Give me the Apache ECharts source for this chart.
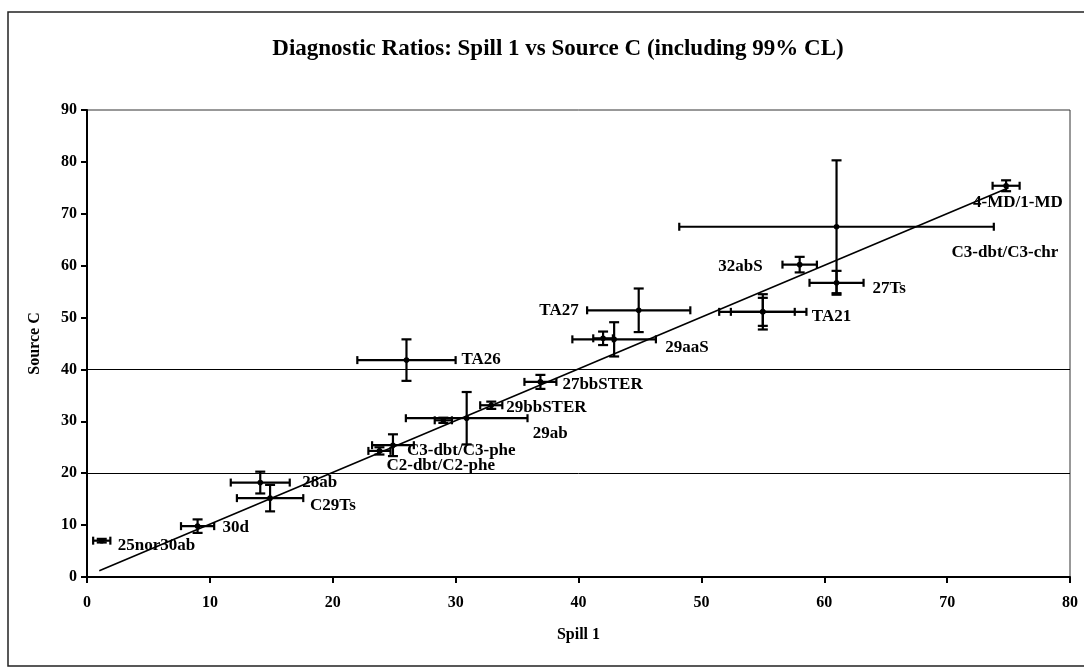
<!DOCTYPE html>
<html>
<head>
<meta charset="utf-8">
<script src="https://cdn.jsdelivr.net/npm/echarts@6/dist/echarts.min.js"></script>
<style>
html,body{margin:0;padding:0;background:#fff;}
#chart{width:1084px;height:670px;}
</style>
</head>
<body>
<div id="chart"></div>
<script>
// ---- data ----
const pointNames = ['25nor30ab','30d','28ab','C29Ts','C2-dbt/C2-phe','C3-dbt/C3-phe','','29ab','29bbSTER','27bbSTER','TA26','','29aaS','TA27','','TA21','32abS','27Ts','C3-dbt/C3-chr','4-MD/1-MD'];
const spill1   = [1.2, 9.0, 14.1, 14.9, 23.8, 24.9, 29.0, 30.9, 32.9, 36.9, 26.0, 42.0, 42.9, 44.9, 55.0, 55.0, 58.0, 61.0, 61.0, 74.8];
const sourceC  = [7.0, 9.8, 18.2, 15.2, 24.3, 25.4, 30.2, 30.6, 33.1, 37.6, 41.8, 46.0, 45.8, 51.4, 51.1, 51.1, 60.2, 56.7, 67.5, 75.4];
const spill1CL = [0.7, 1.35, 2.4, 2.7, 0.9, 1.7, 0.7, 4.95, 0.9, 1.3, 4.0, 0.8, 3.4, 4.2, 3.55, 2.6, 1.4, 2.2, 12.8, 1.1];
const sourceCCL= [0.35, 1.3, 2.1, 2.55, 0.7, 2.1, 0.5, 5.05, 0.7, 1.35, 4.0, 1.3, 3.3, 4.2, 3.4, 2.7, 1.5, 2.3, 12.8, 1.05];
const trendX = [1.0, 75.0];
const trendY = [1.2, 75.0];
const refLevels = [20, 40];
const xTicks = [0,10,20,30,40,50,60,70,80];
const yTicks = [0,10,20,30,40,50,60,70,80,90];

// ---- label layout (pixel offsets, not data) ----
const labelLayout = [
  [16,5,'left'],[25,1,'left'],[42,0,'left'],[40,7,'left'],[7,15,'left'],[14,5,'left'],[0,0,'left'],
  [66,15,'left'],[15,2,'left'],[22,3,'left'],[55,0,'left'],[0,0,'left'],[51,8,'left'],[-60,0,'right'],
  [0,0,'left'],[49,5,'left'],[-37,2,'right'],[36,6,'left'],[115,26,'left'],[-33,17,'left']
];

const FONT = '"Liberation Serif", "Times New Roman", serif';

const errData = spill1.map((x,i)=>[x, sourceC[i], spill1CL[i], sourceCCL[i]]);
const labelData = spill1.map((x,i)=>({
  value:[x, sourceC[i]],
  label:{offset:[labelLayout[i][0], labelLayout[i][1]], align:labelLayout[i][2]}
}));

const chart = echarts.init(document.getElementById('chart'));
chart.setOption({
  backgroundColor:'#fff',
  animation:false,
  title:{
    text:'Diagnostic Ratios: Spill 1 vs Source C (including 99% CL)',
    left:553, textAlign:'center', top:33,
    textStyle:{fontFamily:FONT, fontWeight:'bold', fontSize:23, color:'#000'}
  },
  graphic:[{
    type:'rect', silent:true, z:-1,
    shape:{x:8, y:12, width:1100, height:654},
    style:{fill:'none', stroke:'#222', lineWidth:1.5}
  }],
  grid:{left:87, right:14, top:110, bottom:93, show:true, borderColor:'#333', borderWidth:1, backgroundColor:'transparent'},
  xAxis:{
    type:'value', min:xTicks[0], max:xTicks[xTicks.length-1], interval:10,
    name:'Spill 1', nameLocation:'middle', nameGap:50,
    nameTextStyle:{fontFamily:FONT, fontWeight:'bold', fontSize:16, color:'#000'},
    axisLine:{show:true, lineStyle:{color:'#000', width:2}},
    axisTick:{show:true, inside:false, length:6, lineStyle:{color:'#000', width:2}},
    axisLabel:{fontFamily:FONT, fontWeight:'bold', fontSize:16, color:'#000', margin:18},
    splitLine:{show:false}
  },
  yAxis:{
    type:'value', min:yTicks[0], max:yTicks[yTicks.length-1], interval:10,
    name:'Source C', nameLocation:'middle', nameGap:44, nameRotate:90,
    nameTextStyle:{fontFamily:FONT, fontWeight:'bold', fontSize:16, color:'#000'},
    axisLine:{show:true, lineStyle:{color:'#000', width:2}},
    axisTick:{show:true, inside:false, length:6, lineStyle:{color:'#000', width:2}},
    axisLabel:{fontFamily:FONT, fontWeight:'bold', fontSize:16, color:'#000', margin:10},
    splitLine:{show:false}
  },
  series:[
    {
      type:'line', data:trendX.map((x,i)=>[x,trendY[i]]), symbol:'none', silent:true,
      lineStyle:{color:'#000', width:1.6},
      markLine:{
        silent:true, symbol:['none','none'], label:{show:false},
        lineStyle:{color:'#000', width:1, type:'solid'},
        data:refLevels.map(v=>({yAxis:v}))
      }
    },
    {
      type:'custom', data:errData, silent:true,
      renderItem:function(params, api){
        const x=api.value(0), y=api.value(1), ex=api.value(2), ey=api.value(3);
        const c=api.coord([x,y]);
        const l=api.coord([x-ex,y]), r=api.coord([x+ex,y]);
        const t=api.coord([x,y+ey]), b=api.coord([x,y-ey]);
        const st={stroke:'#000', lineWidth:2.2};
        const hc=4, vc=5;
        return {type:'group', children:[
          {type:'line', shape:{x1:l[0],y1:l[1],x2:r[0],y2:r[1]}, style:st},
          {type:'line', shape:{x1:t[0],y1:t[1],x2:b[0],y2:b[1]}, style:st},
          {type:'line', shape:{x1:l[0],y1:l[1]-hc,x2:l[0],y2:l[1]+hc}, style:st},
          {type:'line', shape:{x1:r[0],y1:r[1]-hc,x2:r[0],y2:r[1]+hc}, style:st},
          {type:'line', shape:{x1:t[0]-vc,y1:t[1],x2:t[0]+vc,y2:t[1]}, style:st},
          {type:'line', shape:{x1:b[0]-vc,y1:b[1],x2:b[0]+vc,y2:b[1]}, style:st},
          {type:'circle', shape:{cx:c[0], cy:c[1], r:2.8}, style:{fill:'#000'}}
        ]};
      }
    },
    {
      type:'scatter', data:labelData, symbolSize:0, silent:true,
      itemStyle:{opacity:1},
      label:{
        show:true, position:'inside', verticalAlign:'middle',
        fontFamily:FONT, fontWeight:'bold', fontSize:17, color:'#000', opacity:1,
        formatter:function(p){ return pointNames[p.dataIndex]; }
      }
    }
  ]
});
</script>
</body>
</html>
